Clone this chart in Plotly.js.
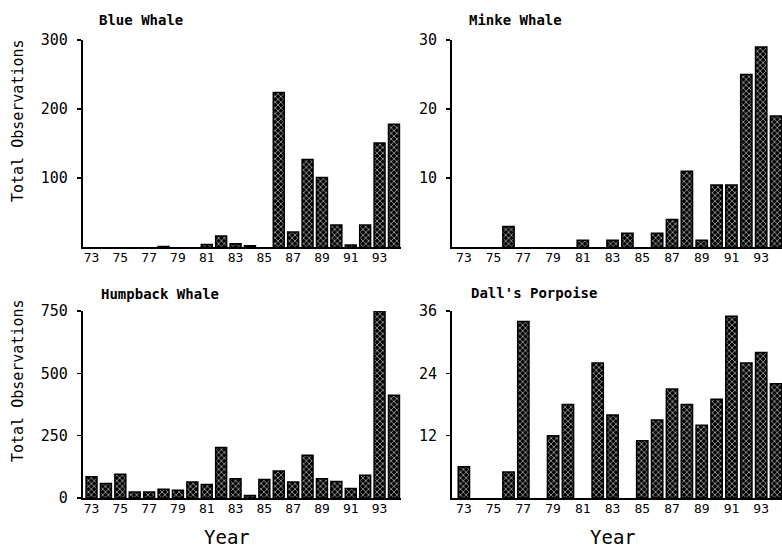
<!DOCTYPE html>
<html>
<head>
<meta charset="utf-8">
<script src="https://cdn.plot.ly/plotly-3.0.1.min.js"></script>
<style>html,body{margin:0;padding:0;background:#fff;}#chart{width:782px;height:548px;}</style>
</head>
<body>
<div id="chart"></div>
<script>
const years = [73,74,75,76,77,78,79,80,81,82,83,84,85,86,87,88,89,90,91,92,93,94];
const yearTicks = [73,75,77,79,81,83,85,87,89,91,93];
const blueWhale = [0,0,0,0,0,1,0,0,4,16,5,2,0,224,22,127,101,32,3,32,151,178];
const minkeWhale = [0,0,0,3,0,0,0,0,1,0,1,2,0,2,4,11,1,9,9,25,29,19];
const humpbackWhale = [85,58,95,24,24,35,31,64,54,203,77,10,74,108,64,172,77,66,38,91,750,412];
const dallsPorpoise = [6,0,0,5,34,0,12,18,0,26,16,0,11,15,21,18,14,19,35,26,28,22];
const panelTitles = ["Blue Whale","Minke Whale","Humpback Whale","Dall's Porpoise"];
const blueTicks = [100,200,300], minkeTicks = [10,20,30], humpTicks = [0,250,500,750], dallTicks = [12,24,36];

const mono = "DejaVu Sans Mono";
function bar(y, xa, ya){
  return {type:'bar', x: years, y: y, xaxis: xa, yaxis: ya, width: 0.76,
    marker:{color:'#000', line:{color:'#000', width: y.map(v => v > 0 ? 1.5 : 0)},
      pattern:{shape:'x', fgcolor:'#fff', bgcolor:'#000', size:4, solidity:0.25}},
    showlegend:false, hoverinfo:'x+y'};
}
const data = [
  bar(blueWhale,'x','y'),
  bar(minkeWhale,'x2','y2'),
  bar(humpbackWhale,'x3','y3'),
  bar(dallsPorpoise,'x4','y4')
];
function xax(dom, rng, anc){
  return {domain: dom, range: rng, anchor: anc, tickvals: yearTicks, ticktext: yearTicks.map(String),
    showgrid:false, zeroline:false, showline:true, linecolor:'#000', linewidth:1.5,
    ticks:'', ticklabelstandoff:-2, tickfont:{family: mono, size:13, color:'#000'}, fixedrange:true};
}
function yax(dom, rng, tv, anc){
  return {domain: dom, range: rng, anchor: anc, tickvals: tv, showgrid:false, zeroline:false,
    showline:true, linecolor:'#000', linewidth:2, ticks:'outside', ticklen:4, tickwidth:1.5, tickcolor:'#000',
    ticklabelstandoff:6, tickfont:{family: mono, size:15, color:'#000'}, fixedrange:true};
}
const L=[0.106,0.513], R=[0.578,1.0], T=[0.549,0.927], B=[0.0912,0.4325];
const layout = {
  width:782, height:548, margin:{l:0,r:0,t:0,b:0}, paper_bgcolor:'#fff', plot_bgcolor:'#fff',
  xaxis: xax(L,[72.4,94.5],'y'), yaxis: yax(T,[0,300],blueTicks,'x'),
  xaxis2: xax(R,[72.2,94.4],'y2'), yaxis2: yax(T,[0,30],minkeTicks,'x2'),
  xaxis3: xax(L,[72.4,94.5],'y3'), yaxis3: yax(B,[0,750],humpTicks,'x3'),
  xaxis4: xax(R,[72.2,94.4],'y4'), yaxis4: yax(B,[0,36],dallTicks,'x4'),
  annotations: [
    {text: panelTitles[0], x:97/782, y:1-20/548, xref:'paper', yref:'paper', xanchor:'left', yanchor:'middle', showarrow:false, font:{family:mono, size:14, color:'#000', weight:'bold'}},
    {text: panelTitles[1], x:467/782, y:1-20/548, xref:'paper', yref:'paper', xanchor:'left', yanchor:'middle', showarrow:false, font:{family:mono, size:14, color:'#000', weight:'bold'}},
    {text: panelTitles[2], x:99/782, y:1-294/548, xref:'paper', yref:'paper', xanchor:'left', yanchor:'middle', showarrow:false, font:{family:mono, size:14, color:'#000', weight:'bold'}},
    {text: panelTitles[3], x:469/782, y:1-293/548, xref:'paper', yref:'paper', xanchor:'left', yanchor:'middle', showarrow:false, font:{family:mono, size:14, color:'#000', weight:'bold'}},
    {text:'Total Observations', x:18/782, y:1-121/548, xref:'paper', yref:'paper', textangle:-90, xanchor:'center', yanchor:'middle', showarrow:false, font:{family:mono, size:15, color:'#000'}},
    {text:'Total Observations', x:18/782, y:1-381/548, xref:'paper', yref:'paper', textangle:-90, xanchor:'center', yanchor:'middle', showarrow:false, font:{family:mono, size:15, color:'#000'}},
    {text:'Year', x:227/782, y:1-537/548, xref:'paper', yref:'paper', xanchor:'center', yanchor:'middle', showarrow:false, font:{family:mono, size:19, color:'#000'}},
    {text:'Year', x:613/782, y:1-537/548, xref:'paper', yref:'paper', xanchor:'center', yanchor:'middle', showarrow:false, font:{family:mono, size:19, color:'#000'}}
  ]
};
Plotly.newPlot('chart', data, layout, {staticPlot:true, displayModeBar:false});
</script>
</body>
</html>
